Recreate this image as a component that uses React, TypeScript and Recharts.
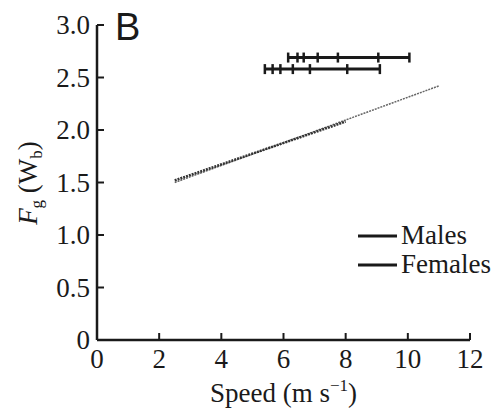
import React from "react";
import { ComposedChart, Scatter, XAxis, YAxis, Label } from "recharts";

// regression fits, speed (m s-1) vs Fg (Wb)
const maleFitSpeed = [2.5, 11];
const maleFitForce = [1.5, 2.42];
const femaleFitSpeed = [2.5, 8];
const femaleFitForce = [1.52, 2.08];

// observed speeds drawn as a range bar with tick marks
const maleSpeeds = [6.15, 6.45, 6.65, 7.1, 7.75, 9.05, 10.05];
const femaleSpeeds = [5.4, 5.65, 5.9, 6.3, 6.85, 8.05, 9.1];
const maleBarLevel = 2.69;
const femaleBarLevel = 2.58;

const xTicks = [0, 2, 4, 6, 8, 10, 12];
const yTicks = [0, 0.5, 1, 1.5, 2, 2.5, 3];

const toPoints = (xs: number[], ys: number[]) => xs.map((x, i) => ({ x, y: ys[i] }));
const toBar = (xs: number[], level: number) => xs.map((x) => ({ x, y: level }));

const maleFit = toPoints(maleFitSpeed, maleFitForce);
const femaleFit = toPoints(femaleFitSpeed, femaleFitForce);
const maleBar = toBar(maleSpeeds, maleBarLevel);
const femaleBar = toBar(femaleSpeeds, femaleBarLevel);

const INK = "#1a1a1a";
const SERIF = "'Liberation Serif', 'Times New Roman', serif";
const FS = 27;

const NoDot = () => <g />;

const TickMark = (props: any) => {
  const { cx, cy } = props;
  if (cx == null || cy == null) return <g />;
  return <line x1={cx} x2={cx} y1={cy - 5} y2={cy + 5} stroke={INK} strokeWidth={2.5} />;
};

const XTick = (props: any) => {
  const { x, y, payload } = props;
  return (
    <text x={x} y={y + 28} textAnchor="middle" fontFamily={SERIF} fontSize={FS} fill={INK}>
      {payload.value}
    </text>
  );
};

const YTick = (props: any) => {
  const { x, y, payload } = props;
  const v = payload.value as number;
  return (
    <text x={x} y={y + 9} textAnchor="end" fontFamily={SERIF} fontSize={FS} fill={INK}>
      {v === 0 ? "0" : v.toFixed(1)}
    </text>
  );
};

const XLabel = (props: any) => {
  const { x, width, y } = props.viewBox;
  return (
    <text x={x + width / 2} y={y + 62} textAnchor="middle" fontFamily={SERIF} fontSize={FS} fill={INK}>
      Speed (m s
      <tspan fontSize={17} dy={-11}>−1</tspan>
      <tspan dy={11}>)</tspan>
    </text>
  );
};

const YLabel = () => {
  const cx = 37;
  const cy = 183;
  return (
    <text
      x={cx}
      y={cy}
      transform={`rotate(-90 ${cx} ${cy})`}
      textAnchor="middle"
      fontFamily={SERIF}
      fontSize={FS}
      fill={INK}
    >
      <tspan fontStyle="italic">F</tspan>
      <tspan fontSize={17} dy={5}>g</tspan>
      <tspan dy={-5}> (W</tspan>
      <tspan fontSize={17} dy={5}>b</tspan>
      <tspan dy={-5}>)</tspan>
    </text>
  );
};

const LegendBox = () => (
  <svg width={146} height={70} style={{ position: "absolute", left: 350, top: 215, overflow: "visible" }}>
    <line x1={8} x2={47} y1={21} y2={21} stroke={INK} strokeWidth={3} />
    <text x={51} y={29} fontFamily={SERIF} fontSize={FS} fill={INK}>Males</text>
    <line x1={8} x2={47} y1={50} y2={50} stroke={INK} strokeWidth={3} />
    <text x={51} y={58} fontFamily={SERIF} fontSize={FS} fill={INK}>Females</text>
  </svg>
);

export default function App() {
  return (
    <div style={{ position: "absolute", left: 0, top: 0, width: 496, height: 410, background: "#fff" }}>
      <ComposedChart width={496} height={410} margin={{ top: 25, right: 26, bottom: 0, left: 0 }}>
        <XAxis
          type="number"
          dataKey="x"
          domain={[0, 12]}
          ticks={xTicks}
          interval={0}
          height={70}
          axisLine={{ stroke: INK, strokeWidth: 2.5 }}
          tickLine={{ stroke: INK, strokeWidth: 2 }}
          tickSize={-7}
          tickMargin={7}
          tick={<XTick />}
        >
          <Label content={<XLabel />} />
        </XAxis>
        <YAxis
          type="number"
          dataKey="y"
          domain={[0, 3]}
          ticks={yTicks}
          interval={0}
          width={97}
          axisLine={{ stroke: INK, strokeWidth: 2.5 }}
          tickLine={{ stroke: INK, strokeWidth: 2 }}
          tickSize={-7}
          tickMargin={14}
          tick={<YTick />}
        >
          <Label content={<YLabel />} />
        </YAxis>
        <Scatter
          name="Males fit"
          data={maleFit}
          line={{ stroke: "#666", strokeWidth: 1.5, strokeDasharray: "2 1" }}
          shape={<NoDot />}
          isAnimationActive={false}
        />
        <Scatter
          name="Females fit"
          data={femaleFit}
          line={{ stroke: "#333", strokeWidth: 2.5, strokeDasharray: "2 1" }}
          shape={<NoDot />}
          isAnimationActive={false}
        />
        <Scatter
          name="Males"
          data={maleBar}
          line={{ stroke: INK, strokeWidth: 3 }}
          shape={<TickMark />}
          isAnimationActive={false}
        />
        <Scatter
          name="Females"
          data={femaleBar}
          line={{ stroke: INK, strokeWidth: 3 }}
          shape={<TickMark />}
          isAnimationActive={false}
        />
      </ComposedChart>
      <LegendBox />
      <div
        style={{
          position: "absolute",
          left: 115,
          top: 5,
          fontFamily: "'Liberation Sans', Arial, sans-serif",
          fontSize: 38,
          lineHeight: "44px",
          color: INK,
        }}
      >
        B
      </div>
    </div>
  );
}
